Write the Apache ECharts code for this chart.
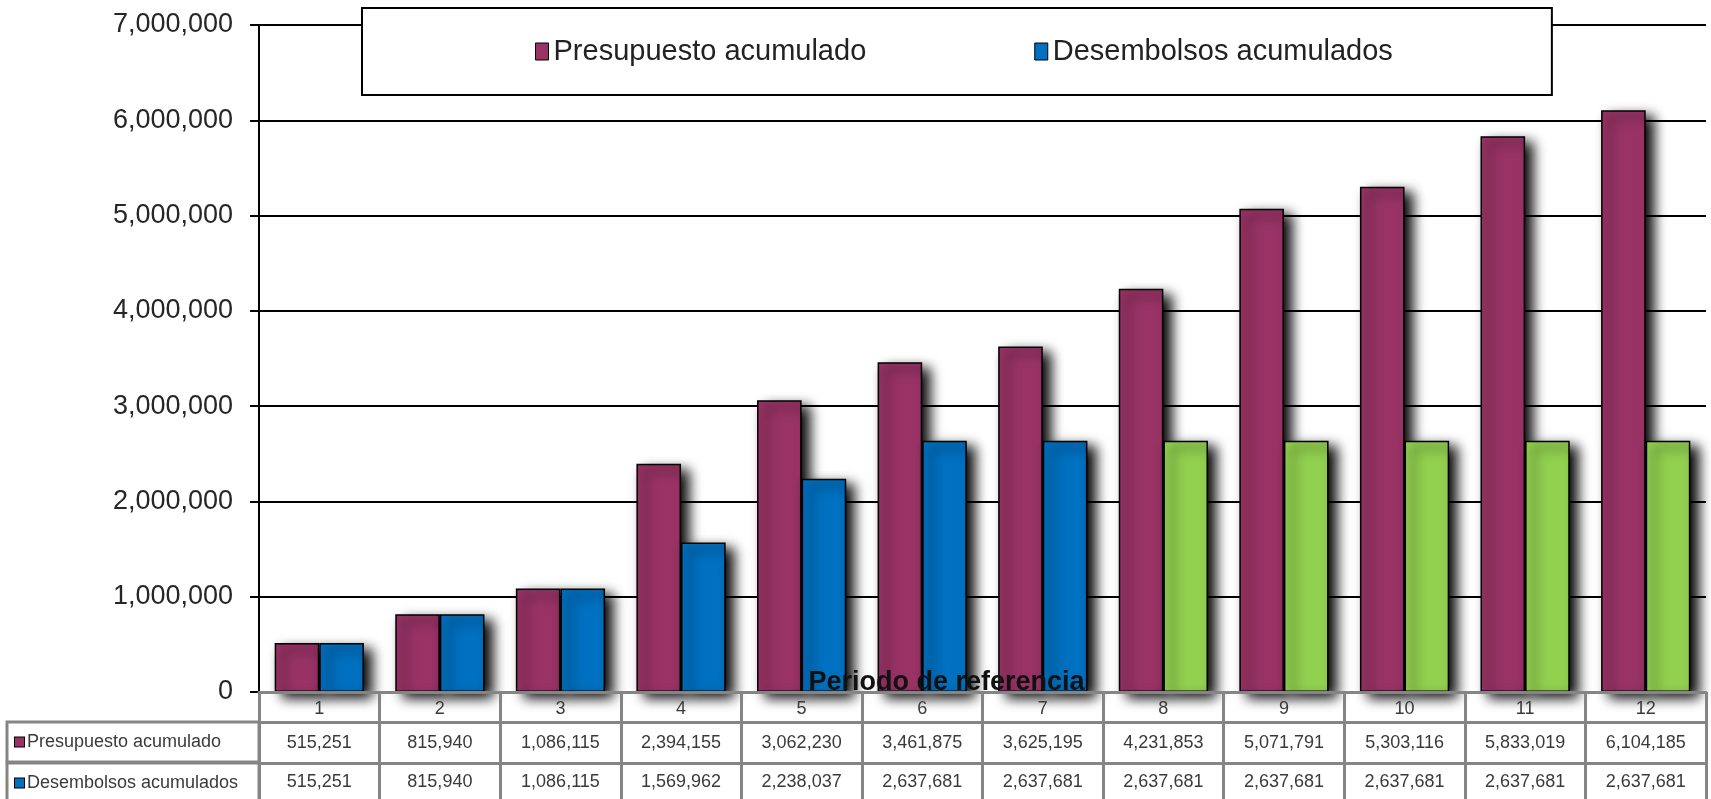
<!DOCTYPE html>
<html>
<head>
<meta charset="utf-8">
<script src="https://cdn.jsdelivr.net/npm/echarts@6/dist/echarts.min.js"></script>
<style>
html,body{margin:0;padding:0;background:#fff;}
#chart{width:1711px;height:799px;}
</style>
</head>
<body>
<div id="chart"></div>
<script>
// ---- data ----
const periods = ['1','2','3','4','5','6','7','8','9','10','11','12'];
const presupuesto = [515251, 815940, 1086115, 2394155, 3062230, 3461875, 3625195, 4231853, 5071791, 5303116, 5833019, 6104185];
const desembolsos = [515251, 815940, 1086115, 1569962, 2238037, 2637681, 2637681, 2637681, 2637681, 2637681, 2637681, 2637681];
const seriesNames = ['Presupuesto acumulado', 'Desembolsos acumulados'];
const axisTitle = 'Periodo de referencia';
const yTicks = [0, 1000000, 2000000, 3000000, 4000000, 5000000, 6000000, 7000000];
const lastActualIndex = 6; // desembolsos after period 7 shown in green

// ---- styles ----
const FONT = "'Liberation Sans', Arial, sans-serif";
const PLUM = '#993366', BLUE = '#0070C0', GREEN = '#92D050';
const TABLE_LINE = '#858585';

function fmt(v) { return String(v).replace(/\B(?=(\d{3})+(?!\d))/g, ','); }

const barShadow = { shadowBlur: 12, shadowColor: 'rgba(0,0,0,1)', shadowOffsetX: 8, shadowOffsetY: 6 };

function rowHeader(name, color) {
  return {
    name: '{m|}{t|' + name + '}',
    nameLocation: 'start',
    nameGap: 252,
    nameMoveOverlap: false,
    nameTextStyle: {
      align: 'left', verticalAlign: 'top',
      padding: [0, 0, 0, 8], lineHeight: 40,
      borderColor: TABLE_LINE, borderWidth: 3,
      rich: {
        m: { width: 9, height: 9, backgroundColor: color, borderColor: '#000', borderWidth: 1, lineHeight: 40 },
        t: { width: 232, align: 'left', fontFamily: FONT, fontSize: 18, color: '#3a3a3a', padding: [0, 0, 0, 3], lineHeight: 40 }
      }
    }
  };
}

const chart = echarts.init(document.getElementById('chart'), null, { renderer: 'canvas' });
chart.setOption({
  animation: false,
  backgroundColor: '#fff',
  textStyle: { fontFamily: FONT },
  legend: {
    left: 362, top: 8,
    padding: [29, 159, 29, 173],
    itemGap: 168,
    itemWidth: 13, itemHeight: 17,
    backgroundColor: '#fff',
    borderColor: '#000', borderWidth: 2,
    textStyle: { fontFamily: FONT, fontSize: 29, color: '#222' },
    data: [
      { name: seriesNames[0], icon: 'rect', itemStyle: { color: PLUM, borderColor: '#000', borderWidth: 1, shadowBlur: 0, shadowOffsetX: 0, shadowOffsetY: 0 } },
      { name: seriesNames[1], icon: 'rect', itemStyle: { color: BLUE, borderColor: '#000', borderWidth: 1, shadowBlur: 0, shadowOffsetX: 0, shadowOffsetY: 0 } }
    ]
  },
  grid: { left: 259, right: 5, top: 25, bottom: 107, containLabel: false, outerBoundsMode: 'none' },
  xAxis: [
    {
      type: 'category', data: periods, position: 'bottom', z: 10,
      name: axisTitle, nameLocation: 'middle', nameGap: 4, nameMoveOverlap: false,
      nameTextStyle: { fontFamily: FONT, fontSize: 27, fontWeight: 'bold', color: '#111', verticalAlign: 'bottom', padding: [0, 72, 0, 0] },
      axisLine: { lineStyle: { color: TABLE_LINE, width: 3 } },
      axisTick: { show: true, length: 110, interval: 0, lineStyle: { color: TABLE_LINE, width: 3 } },
      axisLabel: { interval: 0, margin: 8, fontSize: 18, color: '#3a3a3a', fontFamily: FONT },
      splitLine: { show: false }
    },
    Object.assign({
      type: 'category', data: periods, position: 'bottom', offset: 30, z: 10,
      axisLine: { lineStyle: { color: TABLE_LINE, width: 3 } },
      axisTick: { show: false },
      axisLabel: { interval: 0, margin: 12, fontSize: 18, color: '#3a3a3a', fontFamily: FONT,
        formatter: (v, i) => fmt(presupuesto[i]) },
      splitLine: { show: false }
    }, rowHeader(seriesNames[0], PLUM)),
    Object.assign({
      type: 'category', data: periods, position: 'bottom', offset: 71, z: 10,
      axisLine: { lineStyle: { color: TABLE_LINE, width: 3 } },
      axisTick: { show: false },
      axisLabel: { interval: 0, margin: 10, fontSize: 18, color: '#3a3a3a', fontFamily: FONT,
        formatter: (v, i) => fmt(desembolsos[i]) },
      splitLine: { show: false }
    }, rowHeader(seriesNames[1], BLUE))
  ],
  yAxis: {
    type: 'value', min: yTicks[0], max: yTicks[yTicks.length - 1], interval: yTicks[1] - yTicks[0],
    axisLine: { show: true, lineStyle: { color: '#000', width: 2 } },
    axisTick: { show: true, length: 9, lineStyle: { color: '#000', width: 2 } },
    axisLabel: { margin: 26, fontSize: 27, color: '#262626', fontFamily: FONT, formatter: v => fmt(v) },
    splitLine: { show: true, lineStyle: { color: '#000', width: 2 } }
  },
  series: [
    {
      name: seriesNames[0], type: 'bar', xAxisIndex: 0, data: presupuesto,
      barGap: '0%', barCategoryGap: '26%',
      itemStyle: Object.assign({ color: PLUM, borderColor: '#000', borderWidth: 1.5 }, barShadow)
    },
    {
      name: seriesNames[1], type: 'bar', xAxisIndex: 0, data: desembolsos,
      barGap: '0%', barCategoryGap: '26%',
      itemStyle: Object.assign({
        color: p => (p.dataIndex > lastActualIndex ? GREEN : BLUE),
        borderColor: '#000', borderWidth: 1.5
      }, barShadow)
    }
  ]
});
</script>
</body>
</html>
